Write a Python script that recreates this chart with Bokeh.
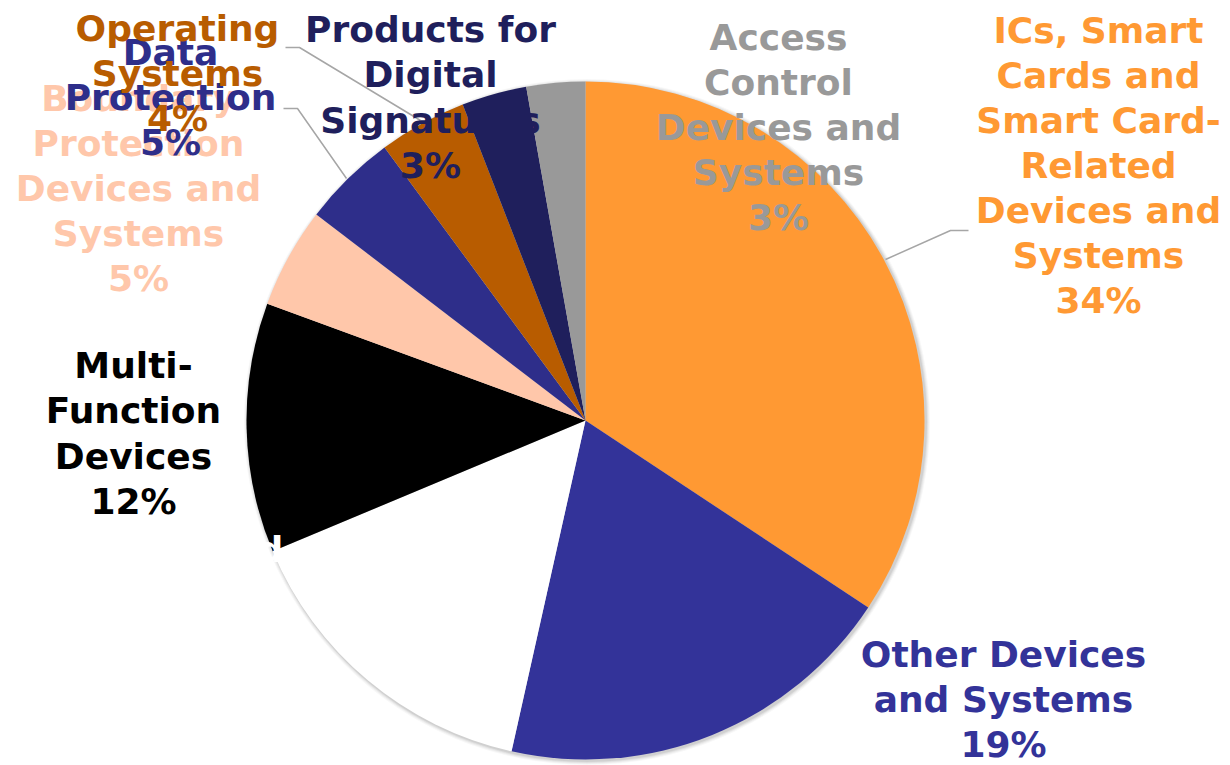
import numpy as np
from bokeh.plotting import figure
from bokeh.models import Range1d, ColumnDataSource
from bokeh.embed import file_html
from bokeh.resources import INLINE
from bokeh.core.properties import value

# ---------------- data ----------------
categories = [
    "ICs, Smart Cards and Smart Card-Related Devices and Systems",
    "Other Devices and Systems",
    "Network and Network-Related Devices and Systems",
    "Multi-Function Devices",
    "Boundary Protection Devices and Systems",
    "Data Protection",
    "Operating Systems",
    "Products for Digital Signatures",
    "Access Control Devices and Systems",
]
label_lines = [
    "ICs, Smart\nCards and\nSmart Card-\nRelated\nDevices and\nSystems",
    "Other Devices\nand Systems",
    "Network and\nNetwork-\nRelated\nDevices and\nSystems",
    "Multi-\nFunction\nDevices",
    "Boundary\nProtection\nDevices and\nSystems",
    "Data\nProtection",
    "Operating\nSystems",
    "Products for\nDigital\nSignatures",
    "Access\nControl\nDevices and\nSystems",
]
shares = [34.3, 19.2, 15.2, 11.9, 4.8, 4.5, 4.2, 3.1, 2.8]
pct_labels = ["34%", "19%", "15%", "12%", "5%", "5%", "4%", "3%", "3%"]
pct_sep = ["\n", "\n", " ", "\n", "\n", "\n", "\n", "\n", "\n"]
slice_colors = ["#FF9933", "#333399", "#FFFFFF", "#000000", "#FFC7AA",
                "#2E2E8A", "#B85C00", "#1F1F5C", "#999999"]
label_colors = ["#FF9933", "#333399", "#FFFFFF", "#000000", "#FFC7AA",
                "#2E2E8A", "#B85C00", "#1F1F5C", "#999999"]

# ---------------- layout (pixel coords, y down) ----------------
W, H = 1230, 765
CX, CY, R = 585, 420, 339
label_pos = [
    (1098, 165), (1003, 699), (153, 639), (133, 433), (138, 188),
    (170, 97), (177, 73), (430, 97), (778, 127),
]
leaders = [
    ([885, 950, 968], [259, 230, 230]),
    ([283, 297, 346], [108, 108, 178]),
    ([285, 299, 420], [47, 47, 120]),
]

def fy(y):
    return H - y

p = figure(width=W, height=H, x_range=Range1d(0, W), y_range=Range1d(0, H),
           output_backend="svg", toolbar_location=None,
           x_axis_location=None, y_axis_location=None, min_border=0)
p.grid.visible = False
p.outline_line_color = None
p.background_fill_color = "white"
p.border_fill_color = "white"

# soft shadow
for k, a in [(4, 0.03), (3, 0.04), (2, 0.05), (1, 0.07)]:
    p.circle(x=[CX + 1.5], y=[fy(CY) - 1.5], radius=R + k, fill_color="#000000",
             fill_alpha=a, line_color=None)

frac = np.array(shares) / np.sum(shares)
cum = np.cumsum(frac)
prev = np.concatenate([[0.0], cum[:-1]])
start = np.pi / 2 - 2 * np.pi * prev
end = np.pi / 2 - 2 * np.pi * cum

src = ColumnDataSource(dict(start=start, end=end, color=slice_colors, cat=categories))
p.wedge(x=CX, y=fy(CY), radius=R, start_angle="start", end_angle="end",
        direction="clock", fill_color="color", line_color=None, source=src)

for xs, ys in leaders:
    p.line(x=xs, y=[fy(v) for v in ys], line_color="#A6A6A6", line_width=1.5)

for i in range(len(categories)):
    txt = label_lines[i] + pct_sep[i] + pct_labels[i]
    x, y = label_pos[i]
    p.text(x=[x], y=[fy(y)], text=[txt], text_color=label_colors[i],
           text_font=value("DejaVu Sans"), text_font_style="bold",
           text_font_size="36px", text_align="center", text_baseline="middle",
           text_line_height=1.10)

open("out.html", "w").write(file_html(p, INLINE))
